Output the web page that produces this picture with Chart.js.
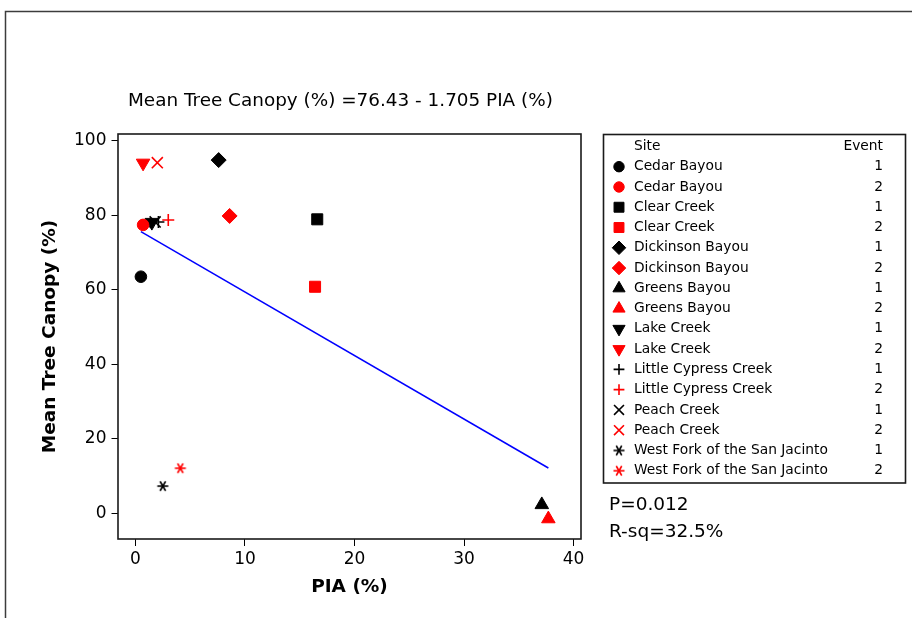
<!DOCTYPE html>
<html>
<head>
<meta charset="utf-8">
<script src="https://cdn.jsdelivr.net/npm/chart.js@4/dist/chart.umd.min.js"></script>
<style>
  html, body { margin: 0; padding: 0; background: #fff; }
  #wrap { width: 912px; height: 618px; position: relative; }
</style>
</head>
<body>
<div id="wrap"><canvas id="c" width="912" height="618"></canvas></div>
<script>
// ---- data ----
const sites = [
  'Cedar Bayou', 'Cedar Bayou', 'Clear Creek', 'Clear Creek',
  'Dickinson Bayou', 'Dickinson Bayou', 'Greens Bayou', 'Greens Bayou',
  'Lake Creek', 'Lake Creek', 'Little Cypress Creek', 'Little Cypress Creek',
  'Peach Creek', 'Peach Creek', 'West Fork of the San Jacinto', 'West Fork of the San Jacinto'
];
const events = [1, 2, 1, 2, 1, 2, 1, 2, 1, 2, 1, 2, 1, 2, 1, 2];
const pia    = [0.5, 0.7, 16.6, 16.4, 7.6, 8.6, 37.1, 37.7, 1.5, 0.7, 2.1, 3.0, 1.8, 2.0, 2.5, 4.1];
const canopy = [63.5, 77.4, 78.9, 60.8, 94.8, 79.8, 2.3, -1.5, 78.1, 94.0, 78.2, 78.7, 78.2, 94.1, 7.3, 12.1];

const xTicks = [0, 10, 20, 30, 40];
const yTicks = [0, 20, 40, 60, 80, 100];

const fitIntercept = 76.43;
const fitSlope = -1.705;
const pValue = '0.012';
const rSq = '32.5%';

// ---- styling ----
const eventColor = { 1: '#000000', 2: '#ff0000' };

// six-armed asterisk marker drawn on a small canvas
function asteriskMarker(color) {
  const s = 14, c = document.createElement('canvas');
  c.width = s; c.height = s;
  const g = c.getContext('2d');
  g.strokeStyle = color; g.lineWidth = 1.6; g.lineCap = 'butt';
  const r = 5.5;
  [0, 60, 120].forEach(deg => {
    const t = deg * Math.PI / 180;
    g.beginPath();
    g.moveTo(s / 2 - Math.cos(t) * r, s / 2 - Math.sin(t) * r);
    g.lineTo(s / 2 + Math.cos(t) * r, s / 2 + Math.sin(t) * r);
    g.stroke();
  });
  return c;
}
const asterisk = { 1: asteriskMarker('#000000'), 2: asteriskMarker('#ff0000') };

const siteMarker = {
  'Cedar Bayou':                 { style: 'circle',   radius: 5.8, rotation: 0,   fill: true },
  'Clear Creek':                 { style: 'rect',     radius: 7.8, rotation: 0,   fill: true },
  'Dickinson Bayou':             { style: 'rectRot',  radius: 7.5, rotation: 0,   fill: true },
  'Greens Bayou':                { style: 'triangle', radius: 7.8, rotation: 0,   fill: true },
  'Lake Creek':                  { style: 'triangle', radius: 7.8, rotation: 180, fill: true },
  'Little Cypress Creek':        { style: 'cross',    radius: 6,   rotation: 0,   fill: false },
  'Peach Creek':                 { style: 'crossRot', radius: 7.8, rotation: 0,   fill: false },
  'West Fork of the San Jacinto':{ style: 'asterisk', radius: 7,   rotation: 0,   fill: false }
};

function markerFor(i) {
  const m = siteMarker[sites[i]];
  const color = eventColor[events[i]];
  return {
    pointStyle: m.style === 'asterisk' ? asterisk[events[i]] : m.style,
    radius: m.radius,
    rotation: m.rotation,
    color: color,
    borderWidth: m.fill ? 1 : 1.6
  };
}

const pointSets = sites.map((s, i) => {
  const m = markerFor(i);
  return {
    type: 'scatter',
    label: s + ' ' + events[i],
    data: [{ x: pia[i], y: canopy[i] }],
    pointStyle: m.pointStyle,
    pointRadius: m.radius,
    pointHoverRadius: m.radius,
    pointRotation: m.rotation,
    backgroundColor: m.color,
    borderColor: m.color,
    borderWidth: m.borderWidth,
    order: 0
  };
});

// fitted regression line over the observed PIA range
const xMin = Math.min(...pia), xMax = Math.max(...pia);
const fitLine = {
  type: 'line',
  label: 'fit',
  data: [{ x: xMin, y: fitIntercept + fitSlope * xMin }, { x: xMax, y: fitIntercept + fitSlope * xMax }],
  borderColor: '#0000ff',
  borderWidth: 1.5,
  pointRadius: 0,
  fill: false,
  order: 1
};

const tickFont = { family: 'DejaVu Sans', size: 17 };
const titleFont = { family: 'DejaVu Sans', size: 18.5, weight: 'bold' };

// frame, equation, legend table and fit statistics
const overlay = {
  id: 'overlay',
  afterDraw(chart) {
    const { ctx, chartArea: a } = chart;
    ctx.save();

    // outer frame (top and left)
    ctx.strokeStyle = '#3c3c3c';
    ctx.lineWidth = 1.5;
    ctx.beginPath();
    ctx.moveTo(5.5, 618); ctx.lineTo(5.5, 11.5); ctx.lineTo(912, 11.5);
    ctx.stroke();

    // plot box
    ctx.strokeStyle = '#1a1a1a';
    ctx.lineWidth = 1.6;
    ctx.strokeRect(a.left, a.top, a.right - a.left, a.bottom - a.top);

    // regression equation
    ctx.fillStyle = '#000';
    ctx.textBaseline = 'middle';
    ctx.textAlign = 'left';
    ctx.font = '18.4px "DejaVu Sans"';
    ctx.fillText('Mean Tree Canopy (%) =' + fitIntercept + ' - ' + Math.abs(fitSlope) + ' PIA (%)', 128, 101);

    // legend table
    const L = { left: 603.5, top: 134.5, right: 905.5, bottom: 483 };
    ctx.strokeStyle = '#1a1a1a';
    ctx.lineWidth = 1.6;
    ctx.strokeRect(L.left, L.top, L.right - L.left, L.bottom - L.top);
    ctx.font = '13.8px "DejaVu Sans"';
    const textX = 634, markX = 619, evX = 883;
    ctx.textAlign = 'left';
    ctx.fillText('Site', textX, 146);
    ctx.textAlign = 'right';
    ctx.fillText('Event', evX, 146);
    const rowH = 20.27, row0 = 166.7;
    sites.forEach((s, i) => {
      const y = row0 + i * rowH;
      ctx.fillStyle = '#000';
      ctx.textAlign = 'left';
      ctx.fillText(s, textX, y);
      ctx.textAlign = 'right';
      ctx.fillText(String(events[i]), evX, y);
      const m = markerFor(i);
      ctx.save();
      ctx.fillStyle = m.color;
      ctx.strokeStyle = m.color;
      ctx.lineWidth = m.borderWidth;
      Chart.helpers.drawPoint(ctx, {
        pointStyle: m.pointStyle,
        radius: m.radius * 0.9,
        rotation: m.rotation,
        borderWidth: m.borderWidth
      }, markX, y);
      ctx.restore();
    });

    // fit statistics
    ctx.fillStyle = '#000';
    ctx.textAlign = 'left';
    ctx.font = '18.5px "DejaVu Sans"';
    ctx.fillText('P=' + pValue, 609, 505);
    ctx.fillText('R-sq=' + rSq, 609, 532);

    ctx.restore();
  }
};

new Chart(document.getElementById('c'), {
  data: { datasets: [fitLine, ...pointSets] },
  options: {
    responsive: false,
    animation: false,
    devicePixelRatio: 1,
    layout: { padding: { left: 0, top: 134, right: 331, bottom: 0 } },
    plugins: { legend: { display: false }, tooltip: { enabled: false }, title: { display: false } },
    scales: {
      x: {
        type: 'linear',
        min: -1.59,
        max: 40.68,
        afterBuildTicks: s => { s.ticks = xTicks.map(v => ({ value: v })); },
        afterFit: s => { s.height = 79; },
        ticks: { font: tickFont, color: '#000', padding: 3, maxRotation: 0, autoSkip: false },
        grid: { drawOnChartArea: false, drawTicks: true, tickLength: 7, color: '#000', lineWidth: 1 },
        border: { display: false },
        title: { display: true, text: 'PIA (%)', font: titleFont, color: '#000', padding: { top: 0, bottom: 20 } }
      },
      y: {
        type: 'linear',
        min: -6.9,
        max: 101.8,
        afterBuildTicks: s => { s.ticks = yTicks.map(v => ({ value: v })); },
        afterFit: s => { s.width = 118; },
        ticks: { font: tickFont, color: '#000', padding: 5, autoSkip: false },
        grid: { drawOnChartArea: false, drawTicks: true, tickLength: 6.5, color: '#000', lineWidth: 1 },
        border: { display: false },
        title: { display: true, text: 'Mean Tree Canopy (%)', font: titleFont, color: '#000', padding: { top: 39, bottom: 0 } }
      }
    }
  },
  plugins: [overlay]
});
</script>
</body>
</html>
